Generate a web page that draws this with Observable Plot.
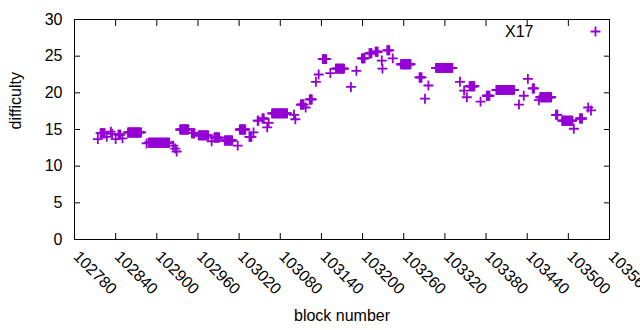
<!DOCTYPE html>
<html><head><meta charset="utf-8">
<script src="https://cdn.jsdelivr.net/npm/d3@7"></script>
<script src="https://cdn.jsdelivr.net/npm/@observablehq/plot@0.6"></script>
<style>body{margin:0;background:#fff}</style>
</head><body><div id="chart"></div>
<script>
// Runs of consecutive blocks sharing one difficulty value
const runFrom = [102814,102818,102827,102833,102835,102840,102844,102850,102858,102885,102888,102924,102927,102929,102934,102951,102961,102980,102984,102999,103018,103021,103035,103041,103047,103054,103061,103063,103068,103100,103102,103110,103117,103123,103132,103136,103142,103153,103161,103183,103191,103199,103210,103219,103228,103229,103236,103244,103256,103283,103291,103296,103307,103342,103348,103352,103356,103372,103381,103395,103428,103435,103441,103448,103457,103459,103482,103491,103508,103517,103529,103533];
const runTo   = [102814,102824,102827,102833,102835,102840,102847,102850,102877,102885,102918,102924,102927,102929,102946,102955,102975,102980,102991,103010,103018,103029,103038,103041,103048,103056,103061,103063,103090,103100,103102,103114,103117,103126,103132,103136,103147,103153,103173,103183,103191,103203,103213,103222,103228,103229,103239,103244,103270,103286,103291,103296,103331,103342,103348,103352,103363,103372,103385,103421,103428,103435,103441,103450,103457,103475,103484,103506,103508,103520,103529,103533];
const runDifficulty = [13.7,14.5,14.0,14.7,14.4,13.7,14.3,13.8,14.6,13.1,13.2,12.8,12.4,12.0,15.0,14.5,14.2,13.4,13.9,13.5,12.8,15.0,14.0,14.6,16.2,16.5,15.3,15.9,17.2,17.0,16.4,18.4,18.0,19.1,21.5,22.5,24.6,22.7,23.3,20.8,23.0,24.7,25.4,25.6,24.4,23.3,25.8,24.7,23.9,22.1,19.2,21.0,23.4,21.5,20.3,19.4,20.9,18.8,19.6,20.4,18.4,19.6,21.9,20.6,19.0,19.4,17.0,16.2,15.1,16.5,18.0,17.6];
const xTicks = [102780,102840,102900,102960,103020,103080,103140,103200,103260,103320,103380,103440,103500,103560];
const yTicks = [0,5,10,15,20,25,30];
const seriesName = "X17";
const xTitle = "block number";
const yTitle = "difficulty";

const points = [];
runFrom.forEach((a, i) => {
  for (let b = a; b <= runTo[i]; b++) points.push({block: b, difficulty: runDifficulty[i]});
});

const color = "#9400d3";
const chart = Plot.plot({
  width: 640, height: 330,
  marginLeft: 74, marginRight: 31, marginTop: 19, marginBottom: 91,
  style: {fontFamily: "'Liberation Sans', Arial, sans-serif", fontSize: "16px", background: "#fff", color: "#000", overflow: "visible"},
  x: {domain: [102780, 103560]},
  y: {domain: [0, 30]},
  marks: [
    Plot.frame({stroke: "#000", strokeWidth: 1}),
    Plot.axisY({ticks: yTicks, tickSize: 0, tickPadding: 12, label: null, fontSize: 16}),
    Plot.axisY({ticks: yTicks, tickSize: -6, text: null, label: null}),
    Plot.axisY({anchor: "right", ticks: yTicks, tickSize: -6, text: null, label: null}),
    Plot.axisX({ticks: xTicks, tickSize: -6, text: null, label: null}),
    Plot.axisX({anchor: "top", ticks: xTicks, tickSize: -6, text: null, label: null}),
    Plot.text(xTicks, {x: d => d, text: d => String(d), frameAnchor: "bottom", dy: 18, dx: -2, rotate: 45, textAnchor: "start", fontSize: 16}),
    Plot.dot(points, {x: "block", y: "difficulty", symbol: "plus", r: 3.3, stroke: color, strokeWidth: 1.8}),
    Plot.text([seriesName], {frameAnchor: "top-right", dx: -76, dy: 12, lineAnchor: "middle", text: d => d, textAnchor: "end", fontSize: 16}),
    Plot.dot([seriesName], {frameAnchor: "top-right", dx: -14, dy: 12, symbol: "plus", r: 3.3, stroke: color, strokeWidth: 1.8}),
    Plot.text([xTitle], {frameAnchor: "bottom", dy: 76, lineAnchor: "middle", text: d => d, fontSize: 16}),
    Plot.text([yTitle], {frameAnchor: "left", dx: -59, rotate: -90, text: d => d, fontSize: 16})
  ]
});
document.getElementById("chart").appendChild(chart);
</script>
</body></html>
